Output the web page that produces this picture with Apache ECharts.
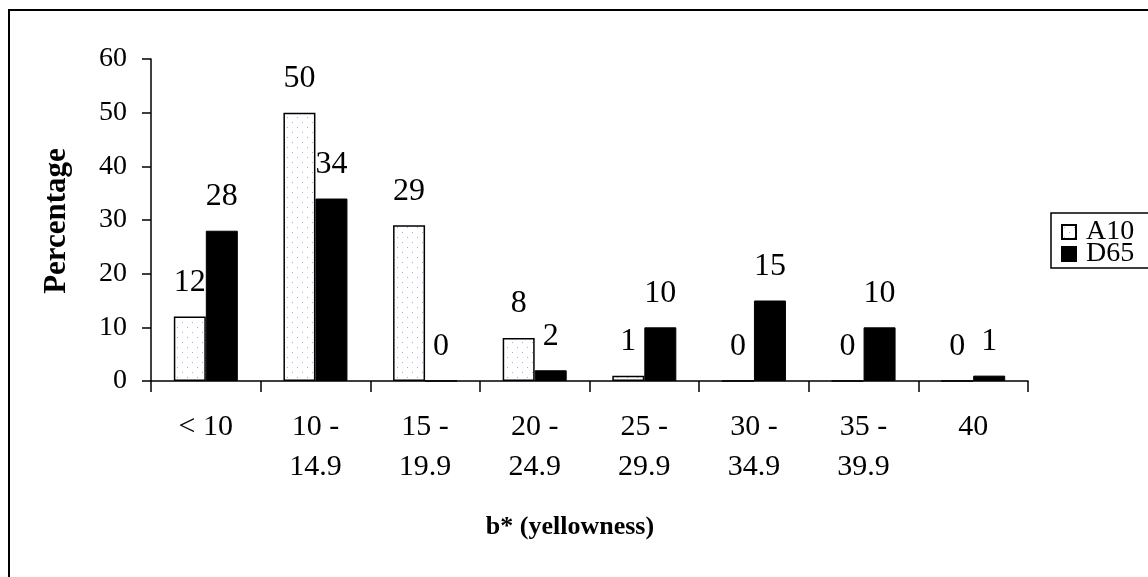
<!DOCTYPE html>
<html>
<head>
<meta charset="utf-8">
<script src="https://cdn.jsdelivr.net/npm/echarts@6/dist/echarts.min.js"></script>
<style>
  html, body { margin: 0; padding: 0; background: #fff; }
  #chart { width: 1148px; height: 577px; }
</style>
</head>
<body>
<div id="chart"></div>
<script>
// b* (yellowness) distribution under two illuminants
const categories = ['< 10', '10 -\n14.9', '15 -\n19.9', '20 -\n24.9', '25 -\n29.9', '30 -\n34.9', '35 -\n39.9', '40'];
const seriesNames = ['A10', 'D65'];
const a10Values = [12, 50, 29, 8, 1, 0, 0, 0];
const d65Values = [28, 34, 0, 2, 10, 15, 10, 1];
const yTicks = { min: 0, max: 60, interval: 10 };

const SERIF = '"Liberation Serif", "Times New Roman", serif';

// light dotted fill for the A10 bars
function dotPattern() {
  const c = document.createElement('canvas');
  c.width = 10; c.height = 10;
  const g = c.getContext('2d');
  g.fillStyle = '#ffffff';
  g.fillRect(0, 0, 10, 10);
  g.fillStyle = '#a3a6f5';
  g.fillRect(2, 2, 1, 1);
  g.fillRect(7, 7, 1, 1);
  return c;
}

const chart = echarts.init(document.getElementById('chart'), null, { renderer: 'canvas' });

const labelStyle = {
  show: true,
  position: 'top',
  distance: 18,
  color: '#000',
  fontFamily: SERIF,
  fontSize: 32
};

chart.setOption({
  animation: false,
  backgroundColor: '#fff',
  grid: { left: 151, top: 59, width: 877, height: 322, containLabel: false },
  xAxis: {
    type: 'category',
    data: categories,
    axisLine: { lineStyle: { color: '#000', width: 1.5 } },
    axisTick: { show: true, length: 11, lineStyle: { color: '#000', width: 1.5 } },
    axisLabel: {
      color: '#000', fontFamily: SERIF, fontSize: 30, lineHeight: 40,
      margin: 26, interval: 0
    },
    splitLine: { show: false }
  },
  yAxis: {
    type: 'value',
    min: yTicks.min, max: yTicks.max, interval: yTicks.interval,
    axisLine: { show: true, lineStyle: { color: '#000', width: 1.5 } },
    axisTick: { show: true, length: 9, lineStyle: { color: '#000', width: 1.5 } },
    axisLabel: { color: '#000', fontFamily: SERIF, fontSize: 28, margin: 24 },
    splitLine: { show: false }
  },
  legend: {
    orient: 'vertical',
    left: 1061,
    top: 218,
    itemWidth: 14,
    itemHeight: 14,
    itemGap: -6,
    padding: 0,
    textStyle: {
      color: '#000', fontFamily: SERIF, fontSize: 28, lineHeight: 22,
      padding: [0, 0, 0, 5]
    },
    data: seriesNames.map(n => ({ name: n, icon: 'rect' }))
  },
  series: [
    {
      name: seriesNames[0],
      type: 'bar',
      data: a10Values,
      barWidth: 32,
      barGap: '0%',
      itemStyle: {
        color: { image: dotPattern(), repeat: 'repeat' },
        borderColor: '#000',
        borderWidth: 1.5
      },
      label: labelStyle
    },
    {
      name: seriesNames[1],
      type: 'bar',
      data: d65Values,
      barWidth: 32,
      barGap: '0%',
      itemStyle: { color: '#000', borderColor: '#000', borderWidth: 1 },
      label: labelStyle
    }
  ],
  graphic: [
    {
      type: 'rect',
      shape: { x: 9, y: 10, width: 1160, height: 590 },
      style: { fill: 'none', stroke: '#000', lineWidth: 2 },
      silent: true, z: 0
    },
    {
      type: 'rect',
      shape: { x: 1051, y: 213, width: 120, height: 55 },
      style: { fill: 'none', stroke: '#000', lineWidth: 1.5 },
      silent: true, z: 0
    },
    {
      type: 'text',
      x: 57, y: 221,
      rotation: Math.PI / 2,
      style: {
        text: 'Percentage',
        fill: '#000',
        font: 'bold 31px ' + SERIF,
        align: 'center',
        verticalAlign: 'middle'
      },
      silent: true
    },
    {
      type: 'text',
      x: 570, y: 527,
      style: {
        text: 'b* (yellowness)',
        fill: '#000',
        font: 'bold 26px ' + SERIF,
        align: 'center',
        verticalAlign: 'middle'
      },
      silent: true
    }
  ]
});
</script>
</body>
</html>
